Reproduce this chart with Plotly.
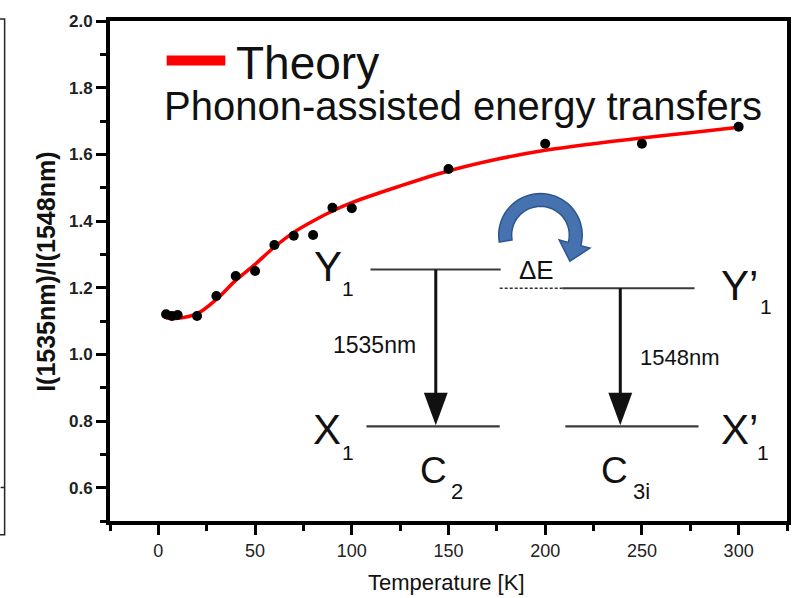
import numpy as np
import plotly.graph_objects as go

# ---------------- data ----------------
temp_meas = [4, 7, 10, 20, 30, 40, 50, 60, 70, 80, 90, 100, 150, 200, 250, 300]
ratio_meas = [1.12, 1.115, 1.118, 1.115, 1.175, 1.235, 1.25, 1.328, 1.356, 1.358,
              1.44, 1.438, 1.556, 1.632, 1.632, 1.683]

theory_T = [4, 10, 20, 30, 40, 50, 60, 70, 80, 90, 100, 125, 150, 175, 200, 225, 250, 275, 300]
theory_ratio = [1.109, 1.108, 1.122, 1.165, 1.222, 1.27, 1.322, 1.366, 1.40, 1.43, 1.455,
                1.505, 1.55, 1.585, 1.612, 1.632, 1.649, 1.665, 1.681]

x_ticks = [0, 50, 100, 150, 200, 250, 300]
y_ticks = [0.6, 0.8, 1.0, 1.2, 1.4, 1.6, 1.8, 2.0]

# ---------------- layout geometry (pixels) ----------------
W, H = 803, 598
L, R, T, B = 110, 791, 14, 521   # plot area edges in pixels


def PX(x):
    return (x - L) / (R - L)


def PY(y):
    return (B - y) / (B - T)


fig = go.Figure()

fig.add_trace(go.Scatter(
    x=theory_T, y=theory_ratio, mode="lines",
    line=dict(color="#ff0000", width=3.5, shape="spline", smoothing=1.0),
    showlegend=False, hoverinfo="skip"))

fig.add_trace(go.Scatter(
    x=temp_meas, y=ratio_meas, mode="markers",
    marker=dict(color="black", size=10),
    showlegend=False))

shapes = []
annots = []

BLK = "#111111"
LEV = "#3a3a3a"


def hline(x0, x1, y, width=2, color=LEV, dash="solid"):
    shapes.append(dict(type="line", xref="paper", yref="paper",
                       x0=PX(x0), x1=PX(x1), y0=PY(y), y1=PY(y),
                       line=dict(color=color, width=width, dash=dash)))


def poly(points, fill, line_color=None, line_width=0):
    p = "M " + " L ".join(f"{PX(a):.5f},{PY(b):.5f}" for a, b in points) + " Z"
    shapes.append(dict(type="path", xref="paper", yref="paper", path=p,
                       fillcolor=fill,
                       line=dict(color=line_color or fill, width=line_width)))


def text(s, x, y, size, xanchor="center", weight="normal", color="#111111",
         family="Liberation Sans, Arial, sans-serif", angle=0):
    annots.append(dict(text=s, x=PX(x), y=PY(y), xref="paper", yref="paper",
                       xanchor=xanchor, yanchor="middle", showarrow=False,
                       textangle=angle,
                       font=dict(size=size, color=color, family=family, weight=weight)))


# legend
hline(167, 226, 54, width=10, color="#ff0000")
text("Theory", 235, 57, 46, xanchor="left")
text("Phonon-assisted energy transfers", 162, 100, 40, xanchor="left")

# energy levels
hline(372, 503, 266, width=2.2)
hline(502, 565, 285, width=1.6, color="#333333", dash="3px,2px")
hline(565, 698, 285, width=2.2)
hline(368, 502, 425, width=2.2)
hline(568, 702, 425, width=2.2)

# downward arrows
for ax, ytop in [(437.7, 266), (623.3, 285)]:
    shapes.append(dict(type="line", xref="paper", yref="paper",
                       x0=PX(ax), x1=PX(ax), y0=PY(ytop), y1=PY(395),
                       line=dict(color=BLK, width=3)))
    poly([(ax - 12, 391), (ax + 12, 391), (ax, 424)], BLK)

# level labels
text("Y", 329, 263, 42)
text("1", 349, 285, 21)
text("Y\u2019", 723, 282, 42, xanchor="left")
text("1", 770, 303, 21)
text("X", 328, 428, 42)
text("1", 349, 452, 21)
text("X\u2019", 723, 428, 42, xanchor="left")
text("1", 767, 452, 21)
text("C", 435, 470, 37)
text("2", 459, 491, 22)
text("C", 617.5, 470, 37)
text("3i", 645, 491, 22)
text("\u0394E", 539, 266, 26)
text("1535nm", 376, 343, 23)
text("1548nm", 683, 355, 22)

# blue curved arrow (thick arc + arrow head)
cx, cy = 543, 231
r_out, r_in = 42, 29
th = np.linspace(np.radians(190), np.radians(-15), 40)
outer = [(cx + r_out * np.cos(t), cy - r_out * np.sin(t)) for t in th]
inner = [(cx + r_in * np.cos(t), cy - r_in * np.sin(t)) for t in th[::-1]]
te = np.radians(-15)
nx, ny = np.cos(te), -np.sin(te)          # outward normal (screen)
tx, ty = np.sin(te), np.cos(te)           # direction of travel (screen)
bc = (cx + 35.5 * nx, cy + 35.5 * ny)
head = [(bc[0] + 16 * nx, bc[1] + 16 * ny),
        (bc[0] + 18 * tx, bc[1] + 18 * ty),
        (bc[0] - 16 * nx, bc[1] - 16 * ny)]
poly(outer + head + inner, "#4673b0", "#2c5590", 1.5)

# y-axis title
text("I(1535nm)/I(1548nm)", 46, 268, 25, weight="bold", angle=-90)
# x-axis title
text("Temperature [K]", 448, 583, 22, color="#111111")

# artifact frame at the far left
shapes.append(dict(type="path", xref="paper", yref="paper",
                   path=f"M {PX(-2):.5f},{PY(12):.5f} L {PX(4):.5f},{PY(12):.5f} "
                        f"L {PX(4):.5f},{PY(535):.5f} L {PX(-2):.5f},{PY(535):.5f}",
                   line=dict(color="#2a2420", width=1.5)))
hline(0, 4, 487, width=1.5, color="#2a2420")

fig.update_layout(
    width=W, height=H,
    margin=dict(l=L, r=W - R, t=T, b=H - B),
    paper_bgcolor="white", plot_bgcolor="white",
    shapes=shapes, annotations=annots,
    showlegend=False,
)

fig.update_xaxes(
    range=[-25, 325], tickvals=x_ticks, ticktext=[str(v) for v in x_ticks],
    showgrid=False, zeroline=False,
    showline=True, linecolor="black", linewidth=4, mirror=True,
    ticks="outside", ticklen=10, tickwidth=3, tickcolor="black",
    minor=dict(ticks="outside", ticklen=6, tickwidth=3, tickcolor="black", dtick=25, tick0=-25),
    tickfont=dict(size=18, color="#222222", family="Liberation Sans, Arial, sans-serif"),
)
fig.update_yaxes(
    range=[0.5, 2.0], tickvals=y_ticks, ticktext=[f"{v:.1f}" for v in y_ticks],
    showgrid=False, zeroline=False,
    showline=True, linecolor="black", linewidth=4, mirror=True,
    ticks="outside", ticklen=10, tickwidth=3, tickcolor="black",
    minor=dict(ticks="outside", ticklen=6, tickwidth=3, tickcolor="black", dtick=0.1, tick0=0.5),
    tickfont=dict(size=17, color="#222222", family="Liberation Sans, Arial, sans-serif",
                  weight="bold"),
)

fig.write_html("out.html")
